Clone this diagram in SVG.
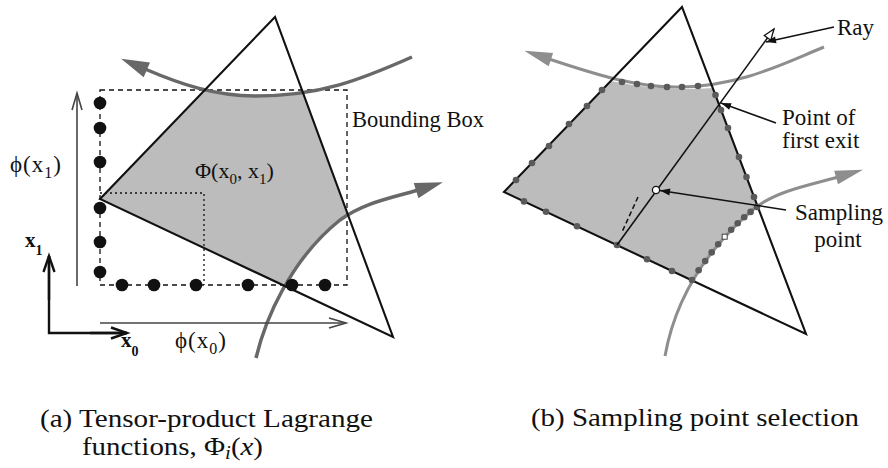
<svg xmlns="http://www.w3.org/2000/svg" width="888" height="468" viewBox="0 0 888 468">
<style>
text{font-family:"Liberation Serif","Times New Roman",serif;fill:#111}
.tri{fill:none;stroke:#111;stroke-width:2.1;stroke-linejoin:miter}
.shade{fill:#bcbcbc;stroke:none}
.curveA{fill:none;stroke:#686868;stroke-width:3.5}
.curveB{fill:none;stroke:#8e8e8e;stroke-width:3}
.dotA{fill:#111}
.dotB{fill:#5a5a5a}
.lbl{font-size:23px}
.cap{font-size:25px}
.thin{fill:none;stroke:#444;stroke-width:1.6}
.leader{fill:none;stroke:#111;stroke-width:1.5}
</style>
<defs>
<marker id="headA" markerUnits="userSpaceOnUse" markerWidth="32" markerHeight="20" refX="2" refY="8" orient="auto" overflow="visible"><path d="M0,0 L28,8 L0,16 z" fill="#686868"/></marker>
<marker id="headB" markerUnits="userSpaceOnUse" markerWidth="32" markerHeight="20" refX="2" refY="8" orient="auto" overflow="visible"><path d="M0,1 L28,8 L0,15 z" fill="#8e8e8e"/></marker>
<marker id="vee" markerUnits="userSpaceOnUse" markerWidth="20" markerHeight="12" refX="0" refY="0" orient="auto" overflow="visible"><path d="M-17,-5 L0,0 L-17,5" fill="none" stroke="#444" stroke-width="1.6"/></marker>
<marker id="veeBold" markerUnits="userSpaceOnUse" markerWidth="20" markerHeight="14" refX="0" refY="0" orient="auto" overflow="visible"><path d="M-16,-5.5 L0,0 L-16,5.5" fill="none" stroke="#111" stroke-width="2.4"/></marker>
<marker id="openTri" markerUnits="userSpaceOnUse" markerWidth="14" markerHeight="10" refX="0" refY="0" orient="auto" overflow="visible"><path d="M-11,-4 L0,0 L-11,4 z" fill="#fff" stroke="#111" stroke-width="1.3"/></marker>
<marker id="solid" markerUnits="userSpaceOnUse" markerWidth="12" markerHeight="8" refX="0" refY="0" orient="auto" overflow="visible"><path d="M-10,-3.5 L0,0 L-10,3.5 z" fill="#111"/></marker>
</defs>

<!-- Panel (a) -->
<g id="panel-a">
  <g id="a-region">
    <path class="shade" d="M100,199 L206,89 Q255,100 303,93 L347,214 Q309,240 283,285 Z"/>
  </g>
  <g id="a-bbox">
    <rect x="100" y="90" width="247" height="195" fill="none" stroke="#111" stroke-width="1.3" stroke-dasharray="5,4"/>
    <polyline points="100,193 204,193 204,285" fill="none" stroke="#111" stroke-width="1.3" stroke-dasharray="2,3"/>
  </g>
  <g id="a-curves">
    <path class="curveA" d="M412,57 C360,80 320,96 255,96 C215,96 180,84 145,69" marker-end="url(#headA)"/>
    <path class="curveA" d="M256,358 C265,320 290,260 340,220 C365,202 392,198 418,190" marker-end="url(#headA)"/>
  </g>
  <g id="a-triangle">
    <polygon class="tri" points="275,17 100,199 393,337"/>
  </g>
  <g id="a-dots" class="dotA">
    <circle cx="100" cy="103" r="6.3"/>
    <circle cx="100" cy="128" r="6.3"/>
    <circle cx="100" cy="162" r="6.3"/>
    <circle cx="100" cy="208" r="6.3"/>
    <circle cx="100" cy="242" r="6.3"/>
    <circle cx="100" cy="272" r="6.3"/>
    <circle cx="122" cy="285" r="6.3"/>
    <circle cx="154" cy="285" r="6.3"/>
    <circle cx="196" cy="285" r="6.3"/>
    <circle cx="248" cy="285" r="6.3"/>
    <circle cx="292" cy="285" r="6.3"/>
    <circle cx="325" cy="285" r="6.3"/>
  </g>
  <g id="a-axes">
    <line class="thin" x1="77" y1="286" x2="77" y2="93" marker-end="url(#vee)"/>
    <line class="thin" x1="100" y1="323" x2="346" y2="323" marker-end="url(#vee)"/>
    <polyline points="49,256 49,333 127,333" fill="none" stroke="#111" stroke-width="2.4"/>
    <line x1="49" y1="300" x2="49" y2="256" stroke="#111" stroke-width="2.4" marker-end="url(#veeBold)"/>
    <line x1="90" y1="333" x2="127" y2="333" stroke="#111" stroke-width="2.4" marker-end="url(#veeBold)"/>
  </g>
  <g id="a-labels">
    <text class="lbl" x="10" y="172" letter-spacing="1">ϕ(x<tspan font-size="16" dy="6">1</tspan><tspan dy="-6">)</tspan></text>
    <text class="lbl" x="175" y="348" letter-spacing="1">ϕ(x<tspan font-size="16" dy="6">0</tspan><tspan dy="-6">)</tspan></text>
    <text font-size="21" font-weight="bold" x="25" y="247">x<tspan font-size="14" dy="8">1</tspan></text>
    <text font-size="21" font-weight="bold" x="121" y="347">x<tspan font-size="14" dy="9">0</tspan></text>
    <text font-size="22" x="195" y="178">Φ(x<tspan font-size="15" dy="6">0</tspan><tspan dy="-6">, x</tspan><tspan font-size="15" dy="6">1</tspan><tspan dy="-6">)</tspan></text>
    <text font-size="22.5" x="352" y="127">Bounding Box</text>
  </g>
  <text class="cap" x="40" y="427" textLength="333" lengthAdjust="spacingAndGlyphs">(a) Tensor-product Lagrange</text>
  <text class="cap" x="82" y="455" textLength="181" lengthAdjust="spacingAndGlyphs">functions, Φ<tspan font-size="18" font-style="italic" dy="4">i</tspan><tspan dy="-4">(</tspan><tspan font-style="italic">x</tspan>)</text>
</g>

<!-- Panel (b) -->
<g id="panel-b">
  <g id="b-region">
    <path class="shade" d="M504,192 L611,81 Q662,92 713,88 L757,207 Q725,230 692,280 Z"/>
  </g>
  <g id="b-curves">
    <path class="curveB" d="M824,47 C780,65 740,86 680,87 C640,88 600,76 549,59" marker-end="url(#headB)"/>
    <path class="curveB" d="M665,356 C675,300 705,250 756,207 C780,190 810,185 838,177" marker-end="url(#headB)"/>
  </g>
  <g id="b-triangle">
    <polygon class="tri" points="682,7 504,192 806,334"/>
  </g>
  <g id="b-dots" class="dotB">
    <circle cx="516" cy="180" r="3.3"/>
    <circle cx="532" cy="163" r="3.3"/>
    <circle cx="549" cy="146" r="3.3"/>
    <circle cx="569" cy="124" r="3.3"/>
    <circle cx="587" cy="106" r="3.3"/>
    <circle cx="602" cy="90" r="3.3"/>
    <circle cx="622" cy="82" r="3.3"/>
    <circle cx="637" cy="84" r="3.3"/>
    <circle cx="651" cy="86" r="3.3"/>
    <circle cx="667" cy="87" r="3.3"/>
    <circle cx="682" cy="87" r="3.3"/>
    <circle cx="698" cy="86" r="3.3"/>
    <circle cx="715.5" cy="95" r="3.3"/>
    <circle cx="721" cy="110" r="3.3"/>
    <circle cx="728" cy="128" r="3.3"/>
    <circle cx="739" cy="157" r="3.3"/>
    <circle cx="746.5" cy="177" r="3.3"/>
    <circle cx="754" cy="197" r="3.3"/>
    <circle cx="757" cy="207" r="3.3"/>
    <circle cx="750.6" cy="211.9" r="3.3"/>
    <circle cx="744.2" cy="217.3" r="3.3"/>
    <circle cx="737.7" cy="223.2" r="3.3"/>
    <circle cx="731.2" cy="229.7" r="3.3"/>
    <circle cx="718.2" cy="244.3" r="3.3"/>
    <circle cx="711.7" cy="252.4" r="3.3"/>
    <circle cx="705.2" cy="261.1" r="3.3"/>
    <circle cx="698.6" cy="270.3" r="3.3"/>
    <circle cx="692" cy="280" r="3.3"/>
    <circle cx="524" cy="201.4" r="3.3"/>
    <circle cx="546" cy="211.7" r="3.3"/>
    <circle cx="577" cy="226.3" r="3.3"/>
    <circle cx="617" cy="245" r="3.3"/>
    <circle cx="647" cy="259.2" r="3.3"/>
    <circle cx="672" cy="271" r="3.3"/>
  </g>
  <g id="b-ray">
    <line x1="638" y1="197" x2="622" y2="232" stroke="#111" stroke-width="1.5" stroke-dasharray="5,3"/>
    <line x1="617" y1="245" x2="774" y2="29" stroke="#111" stroke-width="1.6" marker-end="url(#openTri)"/>
    <rect x="722.2" y="234.2" width="5" height="5" fill="#fff" stroke="#444" stroke-width="1"/>
    <circle cx="656" cy="190" r="3.6" fill="#fff" stroke="#111" stroke-width="1.3"/>
  </g>
  <g id="b-leaders">
    <line class="leader" x1="834" y1="27" x2="766" y2="42" marker-end="url(#solid)"/>
    <line class="leader" x1="776" y1="123" x2="721" y2="103" marker-end="url(#solid)"/>
    <line class="leader" x1="786" y1="210" x2="660" y2="190.5" marker-end="url(#solid)"/>
  </g>
  <g id="b-labels">
    <text class="lbl" x="837" y="35">Ray</text>
    <text class="lbl" x="782" y="125">Point of</text>
    <text class="lbl" x="782" y="148">first exit</text>
    <text class="lbl" x="839" y="220" text-anchor="middle">Sampling</text>
    <text class="lbl" x="838" y="247" text-anchor="middle">point</text>
  </g>
  <text class="cap" x="531" y="426" textLength="328" lengthAdjust="spacingAndGlyphs">(b) Sampling point selection</text>
</g>
</svg>
